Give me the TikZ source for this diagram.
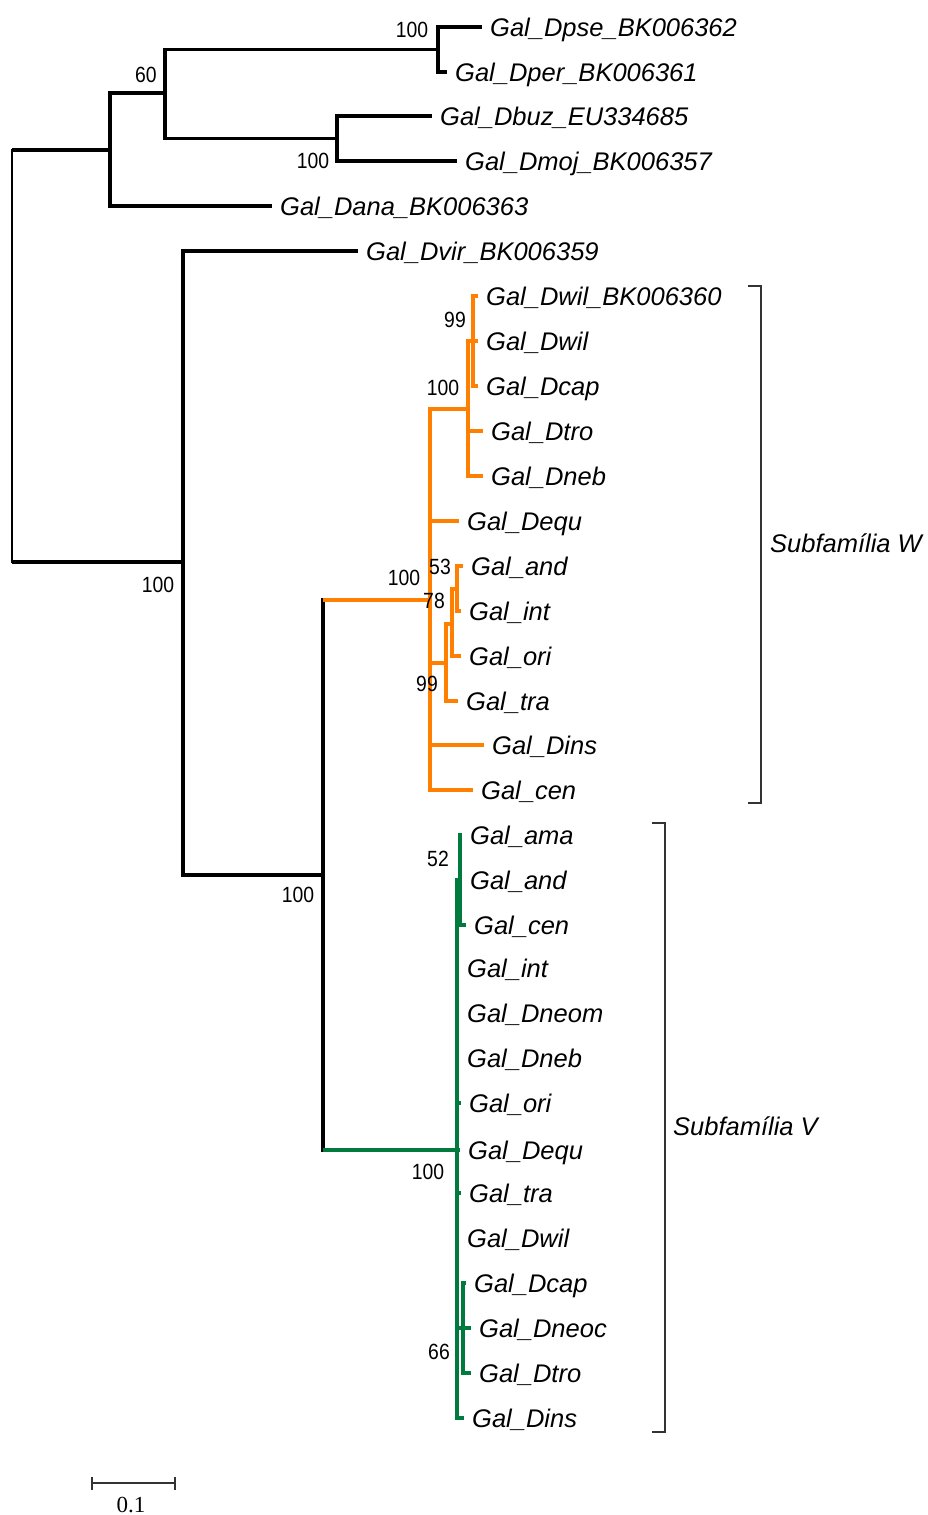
\documentclass[tikz,border=0pt]{standalone}
\usepackage{fontspec}
\setmainfont{Liberation Sans}
\newfontfamily\barfont{Liberation Serif}
\definecolor{subW}{RGB}{255,128,0}
\definecolor{subV}{RGB}{0,122,61}

\begin{document}
\begin{tikzpicture}[x=1pt,y=-1pt,
    treeline/.style={line width=3.4pt},
    leaf/.style={anchor=west,inner xsep=8pt,inner ysep=0pt,text height=18pt,text depth=0pt,
      font=\fontsize{25.5}{30}\selectfont\itshape},
    boot/.style={inner sep=0pt,xscale=0.88,font=\fontsize{22}{22}\selectfont},
    bracket/.style={line width=1.6pt,draw=black!80},
    clade/.style={anchor=west,inner xsep=0pt,inner ysep=0pt,text height=18pt,text depth=0pt,
      font=\fontsize{25.5}{30}\selectfont\itshape}]
  \useasboundingbox (0,0) rectangle (928,1515);

  % internal nodes of the tree
  \coordinate (root) at (12,356);
  \coordinate (nA) at (110,150);
  \coordinate (nB) at (165,93);
  \coordinate (nC) at (438,49.5);
  \coordinate (nD) at (337,138.5);
  \coordinate (nE) at (183,562);
  \coordinate (nF) at (323,875);
  \coordinate (nG) at (430,600);
  \coordinate (nH) at (468,409);
  \coordinate (nI) at (473,341);
  \coordinate (nJ) at (446,663);
  \coordinate (nK) at (452,624);
  \coordinate (nL) at (457,589);
  \coordinate (nM) at (457,1150);
  \coordinate (nN) at (460,880);
  \coordinate (nO) at (463,1328);

  % outgroups
  \node[leaf] (dpse) at (482,27) {Gal\_Dpse\_BK006362};
  \node[leaf] (dper) at (447,72) {Gal\_Dper\_BK006361};
  \node[leaf] (dbuz) at (432,116) {Gal\_Dbuz\_EU334685};
  \node[leaf] (dmoj) at (457,161) {Gal\_Dmoj\_BK006357};
  \node[leaf] (dana) at (272,206) {Gal\_Dana\_BK006363};
  \node[leaf] (dvir) at (358,251) {Gal\_Dvir\_BK006359};

  % subfamily W
  \node[leaf] (w-wilbk) at (478,296) {Gal\_Dwil\_BK006360};
  \node[leaf] (w-wil) at (478,341) {Gal\_Dwil};
  \node[leaf] (w-cap) at (478,386) {Gal\_Dcap};
  \node[leaf] (w-tro) at (483,431) {Gal\_Dtro};
  \node[leaf] (w-neb) at (483,476) {Gal\_Dneb};
  \node[leaf] (w-equ) at (459,521) {Gal\_Dequ};
  \node[leaf] (w-and) at (463,566) {Gal\_and};
  \node[leaf] (w-int) at (461,611) {Gal\_int};
  \node[leaf] (w-ori) at (461,656) {Gal\_ori};
  \node[leaf] (w-tra) at (458,701) {Gal\_tra};
  \node[leaf] (w-ins) at (484,745) {Gal\_Dins};
  \node[leaf] (w-cen) at (473,790) {Gal\_cen};

  % subfamily V
  \node[leaf] (v-ama) at (462,835) {Gal\_ama};
  \node[leaf] (v-and) at (462,880) {Gal\_and};
  \node[leaf] (v-cen) at (466,925) {Gal\_cen};
  \node[leaf] (v-int) at (459,968) {Gal\_int};
  \node[leaf] (v-neom) at (459,1013) {Gal\_Dneom};
  \node[leaf] (v-neb) at (459,1058) {Gal\_Dneb};
  \node[leaf] (v-ori) at (461,1103) {Gal\_ori};
  \node[leaf] (v-equ) at (460,1150) {Gal\_Dequ};
  \node[leaf] (v-tra) at (461,1193) {Gal\_tra};
  \node[leaf] (v-wil) at (459,1238) {Gal\_Dwil};
  \node[leaf] (v-cap) at (466,1283) {Gal\_Dcap};
  \node[leaf] (v-neoc) at (471,1328) {Gal\_Dneoc};
  \node[leaf] (v-tro) at (471,1373) {Gal\_Dtro};
  \node[leaf] (v-ins) at (464,1418) {Gal\_Dins};

  % black part
  \draw[line width=1.8pt,line cap=rect] (root |- nA) -- (root |- nE);
  \draw[treeline] (root |- nA) -- (nA);
  \draw[treeline] (root |- nE) -- (nE);
  \draw[treeline] (nA) |- (nB);
  \draw[treeline] (nA) |- (dana.west);
  \draw[treeline] (nB) |- (nC);
  \draw[treeline] (nB) |- (nD);
  \draw[treeline] (nC) |- (dpse.west);
  \draw[treeline] (nC) |- (dper.west);
  \draw[treeline] (nD) |- (dbuz.west);
  \draw[treeline] (nD) |- (dmoj.west);
  \draw[treeline] (nE) |- (dvir.west);
  \draw[treeline] (nE) |- (nF);
  \draw[treeline,line cap=rect] (nF |- nG) -- (nF |- nM);

  % orange clade
  \draw[treeline,subW] (nF |- nG) -- (nG);
  \draw[treeline,subW] (nG) |- (nH);
  \draw[treeline,subW] (nG) |- (w-equ.west);
  \draw[treeline,subW] (nG) |- (nJ);
  \draw[treeline,subW] (nG) |- (w-ins.west);
  \draw[treeline,subW] (nG) |- (w-cen.west);
  \draw[treeline,subW] (nH) |- (nI);
  \draw[treeline,subW] (nH) |- (w-tro.west);
  \draw[treeline,subW] (nH) |- (w-neb.west);
  \foreach \t in {w-wilbk,w-wil,w-cap}
    \draw[treeline,subW] (nI) |- (\t.west);
  \draw[treeline,subW] (nJ) |- (nK);
  \draw[treeline,subW] (nJ) |- (w-tra.west);
  \draw[treeline,subW] (nK) |- (nL);
  \draw[treeline,subW] (nK) |- (w-ori.west);
  \draw[treeline,subW] (nL) |- (w-and.west);
  \draw[treeline,subW] (nL) |- (w-int.west);

  % green clade
  \draw[treeline,subV] (nF |- nM) -- (nM);
  \draw[treeline,subV] (nM) |- (nN);
  \foreach \t in {v-int,v-neom,v-neb,v-ori,v-equ,v-tra,v-wil,v-ins}
    \draw[treeline,subV] (nM) |- (\t.west);
  \draw[treeline,subV] (nM) |- (nO);
  \foreach \t in {v-ama,v-and,v-cen}
    \draw[treeline,subV] (nN) |- (\t.west);
  \foreach \t in {v-cap,v-neoc,v-tro}
    \draw[treeline,subV] (nO) |- (\t.west);

  % bootstrap values
  \node[boot] (bC) at (412,30) {100};
  \node[boot] (bB) at (146,75) {60};
  \node[boot] (bD) at (313,161) {100};
  \node[boot] (bE) at (158,585) {100};
  \node[boot] (bF) at (298,895) {100};
  \node[boot] (bG) at (404,578) {100};
  \node[boot] (bH) at (443,388) {100};
  \node[boot] (bI) at (455,320) {99};
  \node[boot] (bL) at (440,567) {53};
  \node[boot] (bK) at (434,601) {78};
  \node[boot] (bJ) at (427,684) {99};
  \node[boot] (bN) at (438,859) {52};
  \node[boot] (bM) at (428,1172) {100};
  \node[boot] (bO) at (439,1352) {66};

  % subfamilies
  \draw[bracket] (748,286) -- (761,286) -- (761,803) -- (748,803);
  \node[clade] (famW) at (770,543) {Subfamília W};
  \draw[bracket] (652,823) -- (665,823) -- (665,1432) -- (652,1432);
  \node[clade] (famV) at (673,1126) {Subfamília V};

  % scale bar
  \draw[bracket] (92,1483) -- (175,1483);
  \draw[bracket] (92,1477) -- (92,1490);
  \draw[bracket] (175,1477) -- (175,1490);
  \node[font=\barfont\fontsize{23}{23}\selectfont] (scale) at (131,1505) {0.1};
\end{tikzpicture}
\end{document}
